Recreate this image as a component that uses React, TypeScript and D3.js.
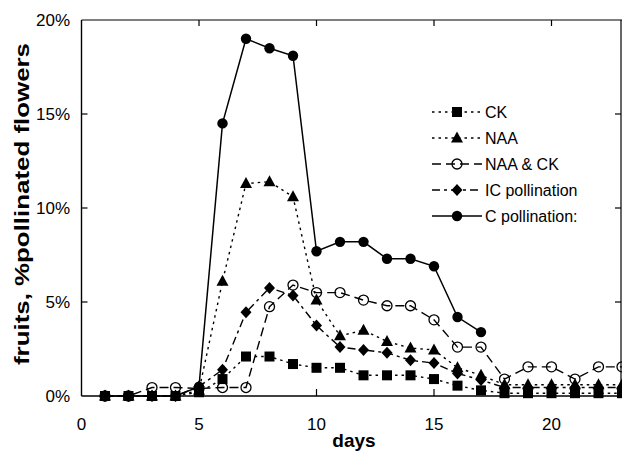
import React from "react";
import * as d3 from "d3";

const days = d3.range(1, 24);
const ckValues = [0, 0, 0, 0, 0.2, 0.9, 2.1, 2.1, 1.7, 1.5, 1.5, 1.1, 1.1, 1.1, 0.9, 0.55, 0.3, 0.15, 0.15, 0.15, 0.15, 0.15, 0.15];
const naaValues = [0, 0, 0, 0, 0.3, 6.1, 11.3, 11.4, 10.6, 5.1, 3.2, 3.5, 2.9, 2.55, 2.45, 1.5, 1.1, 0.6, 0.6, 0.6, 0.6, 0.6, 0.6];
const naaCkValues = [0, 0, 0.45, 0.45, 0.4, 0.45, 0.45, 4.75, 5.9, 5.5, 5.5, 5.1, 4.8, 4.8, 4.05, 2.6, 2.6, 0.9, 1.55, 1.55, 0.9, 1.55, 1.55];
const icValues = [0, 0, 0, 0, 0.5, 1.4, 4.45, 5.75, 5.35, 3.75, 2.6, 2.45, 2.3, 1.9, 1.75, 1.2, 0.85, 0.45, 0.45, 0.45, 0.45, 0.45, 0.45];
const cValues = [0, 0, 0, 0, 0.5, 14.5, 19.0, 18.5, 18.1, 7.7, 8.2, 8.2, 7.3, 7.3, 6.9, 4.2, 3.4];

const xTicks = [0, 5, 10, 15, 20];
const yTicks = [0, 5, 10, 15, 20];

type Shape = "square" | "triangle" | "openCircle" | "diamond" | "circle";
const seriesNames = ["CK", "NAA", "NAA & CK", "IC pollination", "C pollination:"];
const seriesValues = [ckValues, naaValues, naaCkValues, icValues, cValues];
const seriesShapes: Shape[] = ["square", "triangle", "openCircle", "diamond", "circle"];
const seriesDash = ["2.5,4", "2.5,4", "9,5", "8,4,3,4", null];

const W = 622;
const H = 455;
const left = 81.5;
const right = 621;
const top = 20;
const bottom = 396;

const x = d3.scaleLinear().domain([0, 23]).range([left, 622]);
const y = d3.scaleLinear().domain([0, 20]).range([bottom, top]);

function Marker({ shape, cx, cy }: { shape: Shape; cx: number; cy: number }) {
  if (shape === "square") return <rect x={cx - 5} y={cy - 5} width={10} height={10} fill="#000" />;
  if (shape === "circle") return <circle cx={cx} cy={cy} r={5.2} fill="#000" />;
  if (shape === "openCircle") return <circle cx={cx} cy={cy} r={5} fill="none" stroke="#000" strokeWidth={1.3} />;
  if (shape === "triangle") {
    const p = d3.path();
    p.moveTo(cx, cy - 6.5);
    p.lineTo(cx + 6, cy + 4.5);
    p.lineTo(cx - 6, cy + 4.5);
    p.closePath();
    return <path d={p.toString()} fill="#000" />;
  }
  const p = d3.path();
  p.moveTo(cx, cy - 6);
  p.lineTo(cx + 5.5, cy);
  p.lineTo(cx, cy + 6);
  p.lineTo(cx - 5.5, cy);
  p.closePath();
  return <path d={p.toString()} fill="#000" />;
}

export default function App() {
  const line = d3
    .line<number>()
    .x((_, i) => x(days[i]))
    .y((v) => y(v));
  const legendX0 = 432;
  const legendX1 = 482;
  const legendY = [112, 138, 164, 190, 216];
  const font = "Liberation Sans, Arial, sans-serif";
  return (
    <svg width={W} height={H} style={{ position: "absolute", left: 0, top: 0, background: "#fff" }} fontFamily={font}>
      <defs>
        <clipPath id="plot">
          <rect x={left} y={0} width={W - left} height={bottom + 10} />
        </clipPath>
      </defs>
      {/* frame */}
      <line x1={left} x2={left} y1={top} y2={bottom} stroke="#000" strokeWidth={1.4} />
      <line x1={left} x2={W} y1={bottom} y2={bottom} stroke="#000" strokeWidth={1.6} />
      <line x1={left} x2={W} y1={top} y2={top} stroke="#000" strokeWidth={1.2} />
      <line x1={right} x2={right} y1={top} y2={bottom} stroke="#000" strokeWidth={1.2} />
      {yTicks.filter((t) => t > 0 && t < 20).map((t) => (
        <g key={"yt" + t}>
          <line x1={left} x2={left + 6} y1={y(t)} y2={y(t)} stroke="#000" strokeWidth={1.2} />
          <line x1={right - 6} x2={right} y1={y(t)} y2={y(t)} stroke="#000" strokeWidth={1.2} />
        </g>
      ))}
      {xTicks.filter((t) => t > 0).map((t) => (
        <g key={"xt" + t}>
          <line x1={x(t)} x2={x(t)} y1={bottom} y2={bottom - 7} stroke="#000" strokeWidth={1.2} />
          <line x1={x(t)} x2={x(t)} y1={top} y2={top + 6} stroke="#000" strokeWidth={1.2} />
        </g>
      ))}
      {yTicks.map((t) => (
        <text key={"yl" + t} x={70} y={y(t)} dy="0.35em" textAnchor="end" fontSize={17}>
          {t + "%"}
        </text>
      ))}
      {xTicks.map((t) => (
        <text key={"xl" + t} x={x(t)} y={430} textAnchor="middle" fontSize={17}>
          {t}
        </text>
      ))}
      <text x={354} y={447} textAnchor="middle" fontSize={19} fontWeight="bold">
        days
      </text>
      <text
        transform="translate(29,204) rotate(-90)"
        textAnchor="middle"
        fontSize={21}
        fontWeight="bold"
        textLength={322}
        lengthAdjust="spacingAndGlyphs"
      >
        fruits, %pollinated flowers
      </text>
      {/* series */}
      <g clipPath="url(#plot)">
        {seriesValues.map((vals, si) => (
          <path
            key={"l" + si}
            d={line(vals) || ""}
            fill="none"
            stroke="#000"
            strokeWidth={si === 4 ? 1.5 : 1.4}
            strokeDasharray={seriesDash[si] || undefined}
          />
        ))}
        {seriesValues.map((vals, si) =>
          vals.map((v, i) => <Marker key={"m" + si + "-" + i} shape={seriesShapes[si]} cx={x(days[i])} cy={y(v)} />)
        )}
      </g>
      {/* legend */}
      {seriesNames.map((name, si) => (
        <g key={"lg" + si}>
          <line
            x1={legendX0}
            x2={legendX1}
            y1={legendY[si]}
            y2={legendY[si]}
            stroke="#000"
            strokeWidth={1.4}
            strokeDasharray={seriesDash[si] || undefined}
          />
          <Marker shape={seriesShapes[si]} cx={(legendX0 + legendX1) / 2} cy={legendY[si]} />
          <text x={485} y={legendY[si]} dy="0.35em" fontSize={16}>
            {name}
          </text>
        </g>
      ))}
    </svg>
  );
}
